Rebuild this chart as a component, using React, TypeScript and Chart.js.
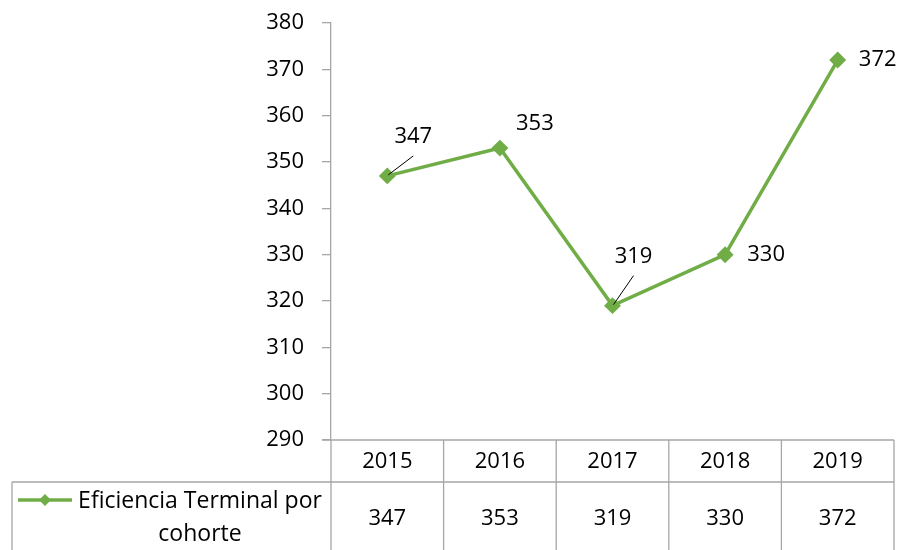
import React, { useEffect, useRef } from "react";
import { Chart, registerables } from "chart.js";

Chart.register(...registerables);

const categories = ["2015", "2016", "2017", "2018", "2019"];
const values = [347, 353, 319, 330, 372];
const seriesName = "Eficiencia Terminal por cohorte";
const yTicks = { min: 290, max: 380, step: 10 };

const FONT = "'Open Sans', sans-serif";
const FS = 22;
const GREEN = "#70AD47";
const GRID = "#a6a6a6";

// label placement relative to the point (style only)
const labelOffsets: [number, number, boolean][] = [
  [26, -39, true],
  [35, -24, false],
  [21, -49, true],
  [41, 0, false],
  [40, 0, false],
];

const tablePlugin = {
  id: "tablePlugin",
  afterDraw(chart: any) {
    const ctx = chart.ctx;
    const ca = chart.chartArea;
    const x = chart.scales.x;
    const y = chart.scales.y;
    const n = categories.length;
    const colW = (ca.right - ca.left) / n;
    const row1 = ca.bottom;
    const row2 = ca.bottom + 42;
    const bottom = chart.height + 2;
    ctx.save();
    // data labels
    ctx.font = `${FS}px ${FONT}`;
    ctx.fillStyle = "#000";
    ctx.textAlign = "center";
    ctx.textBaseline = "middle";
    values.forEach((v, i) => {
      const px = x.getPixelForValue(i);
      const py = y.getPixelForValue(v);
      const [dx, dy, leader] = labelOffsets[i];
      ctx.fillText(String(v), px + dx, py + dy);
      if (leader) {
        ctx.beginPath();
        ctx.strokeStyle = "#000";
        ctx.lineWidth = 1;
        ctx.moveTo(px + 1, py - 1);
        ctx.lineTo(px + dx, py + dy + 19);
        ctx.stroke();
      }
    });
    // table lines
    ctx.strokeStyle = GRID;
    ctx.lineWidth = 1.3;
    ctx.beginPath();
    ctx.moveTo(ca.left - 9, row1);
    ctx.lineTo(ca.right, row1);
    ctx.moveTo(12, row2);
    ctx.lineTo(ca.right, row2);
    for (let i = 0; i <= n; i++) {
      const cx = ca.left + i * colW;
      ctx.moveTo(cx, row1);
      ctx.lineTo(cx, bottom);
    }
    ctx.moveTo(12, row2);
    ctx.lineTo(12, bottom);
    ctx.stroke();
    // table text
    ctx.fillStyle = "#000";
    ctx.font = `${FS}px ${FONT}`;
    categories.forEach((c, i) => {
      const px = x.getPixelForValue(i);
      ctx.fillText(c, px, row1 + 22);
      ctx.fillText(String(values[i]), px, row2 + 37);
    });
    // legend
    ctx.strokeStyle = GREEN;
    ctx.lineWidth = 3.5;
    ctx.beginPath();
    ctx.moveTo(18, row2 + 18);
    ctx.lineTo(72, row2 + 18);
    ctx.stroke();
    ctx.fillStyle = GREEN;
    ctx.beginPath();
    const lx = 45, ly = row2 + 18, r = 6;
    ctx.moveTo(lx, ly - r);
    ctx.lineTo(lx + r, ly);
    ctx.lineTo(lx, ly + r);
    ctx.lineTo(lx - r, ly);
    ctx.closePath();
    ctx.fill();
    ctx.fillStyle = "#000";
    ctx.font = `23px ${FONT}`;
    ctx.fillText("Eficiencia Terminal por", 200, row2 + 19);
    ctx.fillText("cohorte", 200, row2 + 52);
    ctx.restore();
  },
};

export default function App() {
  const ref = useRef<HTMLCanvasElement>(null);
  useEffect(() => {
    const chart = new Chart(ref.current!, {
      type: "line",
      data: {
        labels: categories,
        datasets: [
          {
            label: seriesName,
            data: values,
            borderColor: GREEN,
            backgroundColor: GREEN,
            borderWidth: 3.5,
            pointStyle: "rectRot",
            pointRadius: 6,
            pointBackgroundColor: GREEN,
            pointBorderColor: GREEN,
            tension: 0,
          },
        ],
      },
      options: {
        animation: false,
        responsive: false,
        layout: { padding: { top: 23, right: 10, bottom: 110, left: 0 } },
        plugins: { legend: { display: false }, tooltip: { enabled: false } },
        scales: {
          x: { type: "category", offset: true, display: false },
          y: {
            min: yTicks.min,
            max: yTicks.max,
            ticks: {
              stepSize: yTicks.step,
              color: "#000",
              font: { family: FONT, size: FS },
              padding: 18,
            },
            grid: { drawOnChartArea: false, tickLength: 9, color: GRID, lineWidth: 1.3 },
            border: { color: GRID, width: 1.3 },
            afterFit: (s: any) => {
              s.width = 331;
              s.paddingTop = 0;
              s.paddingBottom = 0;
            },
          },
        },
      },
      plugins: [tablePlugin],
    });
    return () => chart.destroy();
  }, []);
  return (
    <div style={{ position: "absolute", left: 0, top: 0, width: 904, height: 550, background: "#fff" }}>
      <canvas ref={ref} width={904} height={550} />
    </div>
  );
}
